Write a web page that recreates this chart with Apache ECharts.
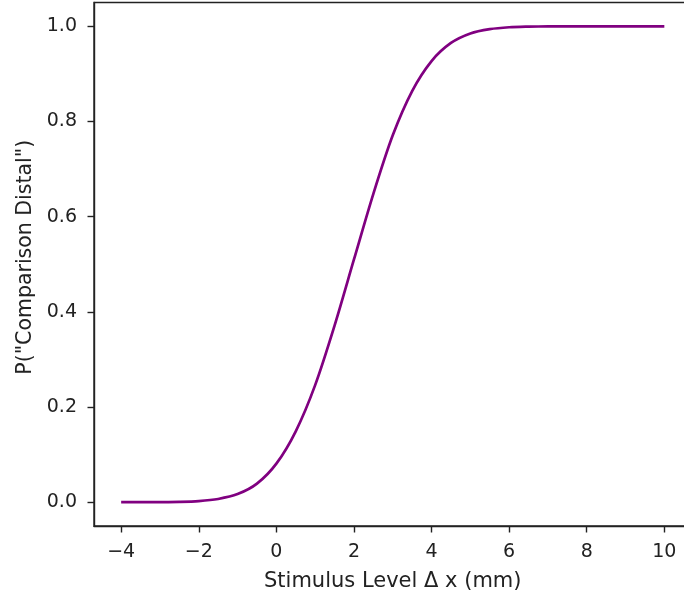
<!DOCTYPE html>
<html>
<head>
<meta charset="utf-8">
<script src="https://cdn.jsdelivr.net/npm/echarts@6/dist/echarts.min.js"></script>
<style>
  html, body { margin: 0; padding: 0; background: #fff; }
  #chart { width: 684px; height: 601px; }
</style>
</head>
<body>
<div id="chart"></div>
<script>
// Psychometric function: probability of answering "comparison distal" by stimulus level
const stimulusLevels = [-4, -3.5, -3, -2.5, -2, -1.5, -1, -0.5, 0, 0.5, 1, 1.5, 2, 2.5, 3, 3.5, 4, 4.5, 5, 5.5, 6, 6.5, 7, 7.5, 8, 8.5, 9, 9.5, 10];
const pDistal = [0.0000, 0.0001, 0.0003, 0.0008, 0.0024, 0.0068, 0.017, 0.039, 0.081, 0.149, 0.246, 0.371, 0.51, 0.648, 0.771, 0.864, 0.927, 0.965, 0.985, 0.994, 0.998, 0.9993, 0.9998, 1.0, 1.0, 1.0, 1.0, 1.0, 1.0];

const xTicks = [-4, -2, 0, 2, 4, 6, 8, 10];
const yTicks = [0, 0.2, 0.4, 0.6, 0.8, 1.0];

const xLabel = 'Stimulus Level \u0394 x (mm)';
const yLabel = 'P("Comparison Distal")';

const fmtX = v => (v < 0 ? '\u2212' + Math.abs(v) : String(v));
const fmtY = v => Number(v).toFixed(1);

const font = 'DejaVu Sans';
const textColor = '#222';

const chart = echarts.init(document.getElementById('chart'), null, { renderer: 'canvas' });
chart.setOption({
  animation: false,
  backgroundColor: '#fff',
  grid: {
    left: 94, top: 2.5, width: 597.5, height: 523.5,
    outerBoundsMode: 'none', containLabel: false,
    show: true, borderColor: '#222', borderWidth: 1.4, backgroundColor: 'transparent'
  },
  xAxis: {
    type: 'value', min: -4.7, max: 10.7,
    name: xLabel, nameLocation: 'middle', nameGap: 45,
    nameTextStyle: { fontFamily: font, fontSize: 21, color: textColor },
    axisLine: { show: true, onZero: false, lineStyle: { color: '#222', width: 1.4 } },
    axisTick: { show: true, inside: false, length: 6.5, lineStyle: { color: '#222', width: 1.4 }, customValues: xTicks },
    axisLabel: { fontFamily: font, fontSize: 19, color: textColor, margin: 17, formatter: fmtX, customValues: xTicks },
    splitLine: { show: false }
  },
  yAxis: {
    type: 'value', min: -0.05, max: 1.05,
    name: yLabel, nameLocation: 'middle', nameGap: 57, nameRotate: 90,
    nameTextStyle: { fontFamily: font, fontSize: 20.5, color: textColor, padding: [0, 0, 0, 14] },
    axisLine: { show: true, onZero: false, lineStyle: { color: '#222', width: 1.4 } },
    axisTick: { show: true, inside: false, length: 6.5, lineStyle: { color: '#222', width: 1.4 }, customValues: yTicks },
    axisLabel: { fontFamily: font, fontSize: 19, color: textColor, margin: 17, formatter: fmtY, customValues: yTicks },
    splitLine: { show: false }
  },
  series: [{
    type: 'line',
    data: stimulusLevels.map((x, i) => [x, pDistal[i]]),
    showSymbol: false,
    smooth: 0.3,
    lineStyle: { color: '#800080', width: 2.7 },
    itemStyle: { color: '#800080' }
  }]
});
</script>
</body>
</html>
